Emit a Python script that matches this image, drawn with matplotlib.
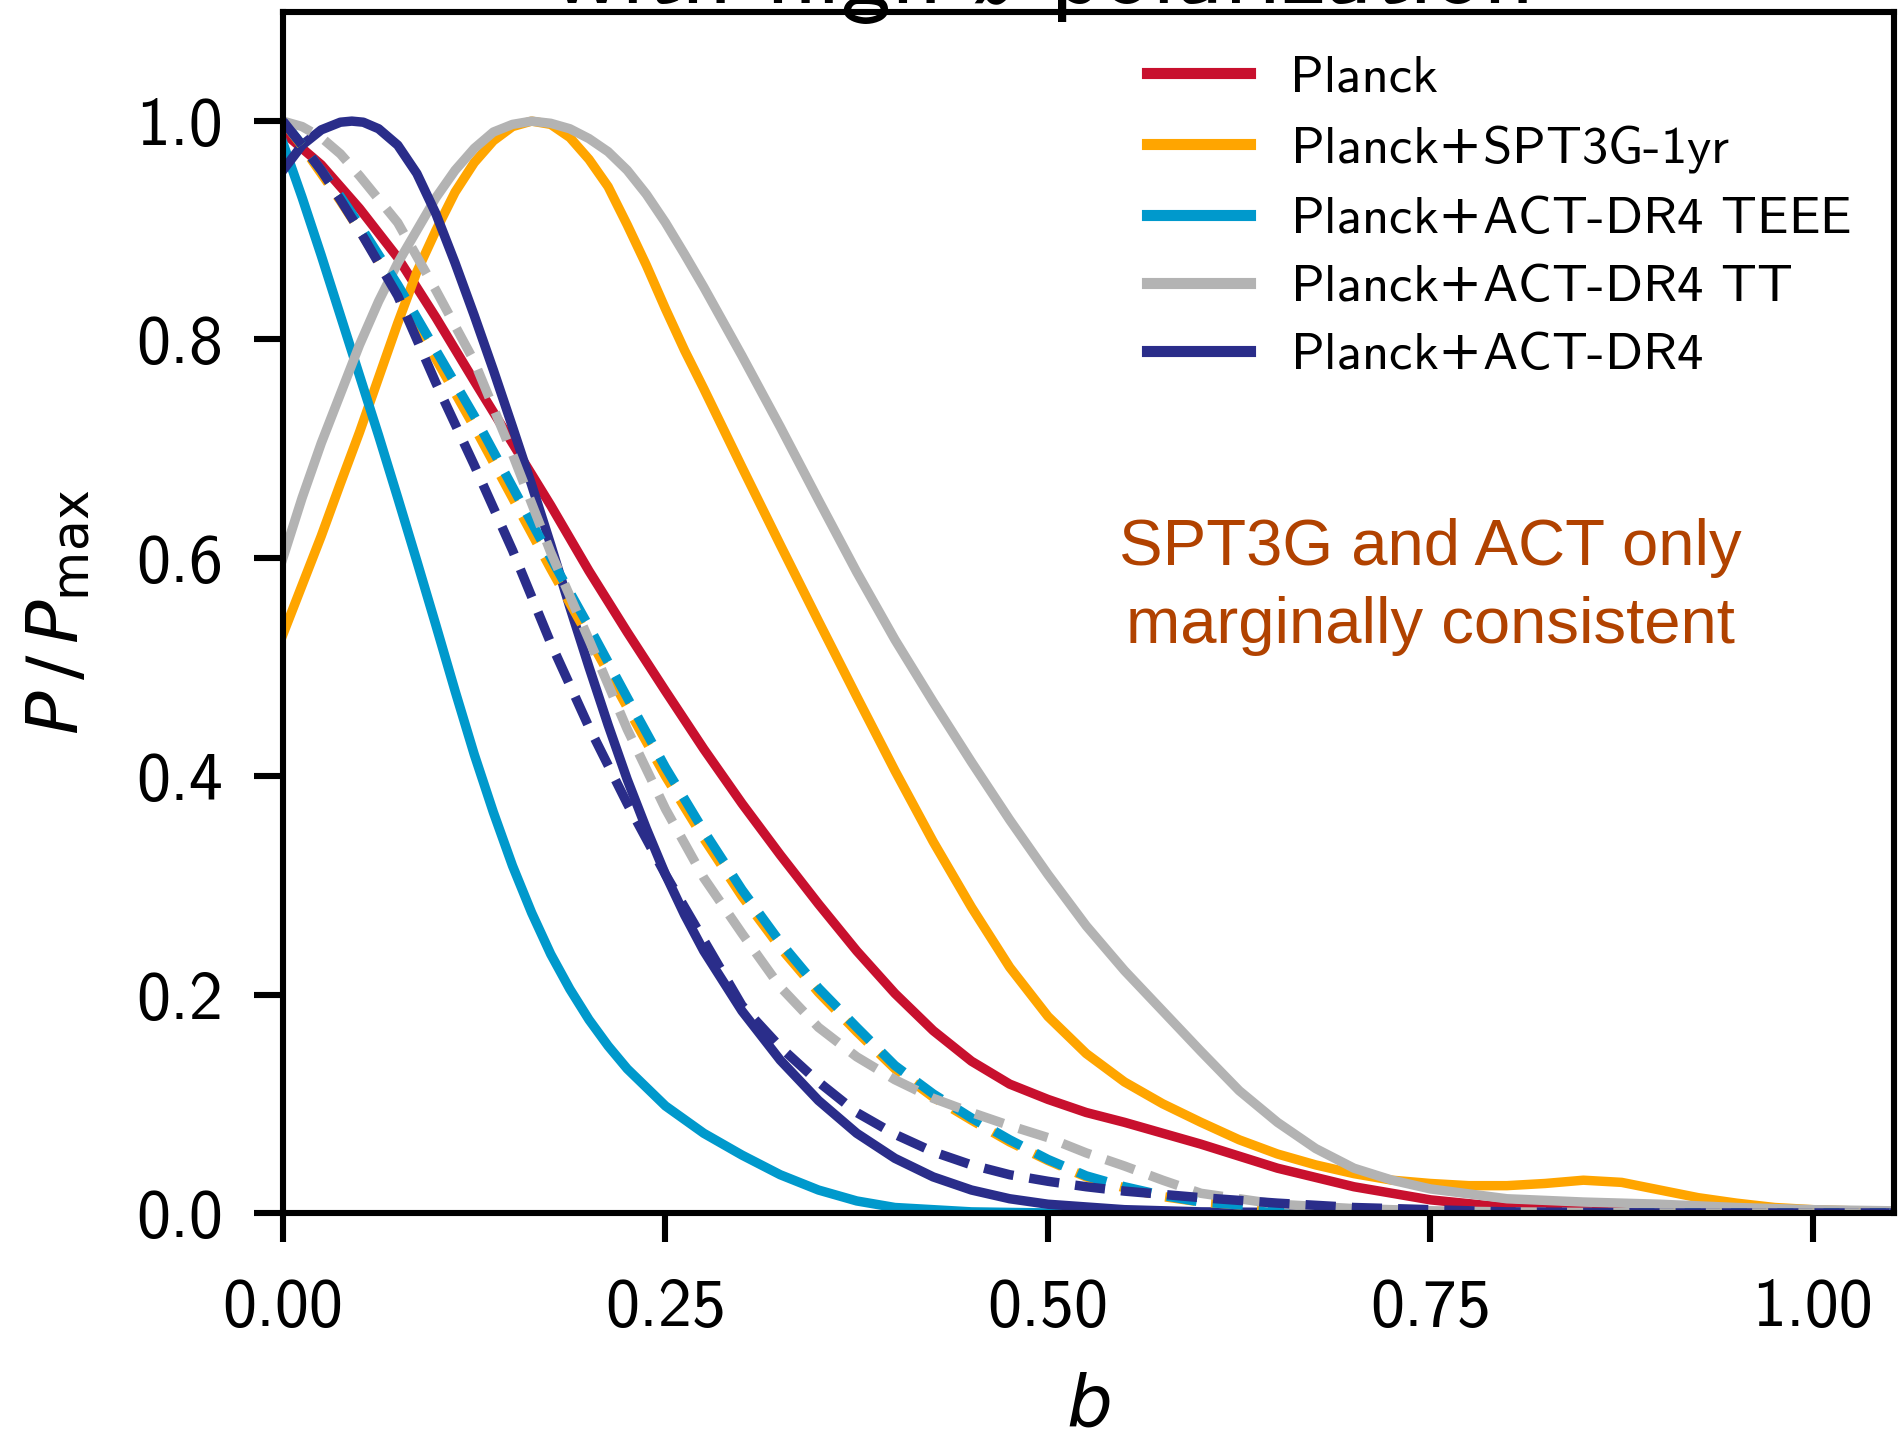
import matplotlib
matplotlib.use("Agg")
import matplotlib.pyplot as plt
from matplotlib.lines import Line2D

plt.rcParams['font.family'] = ['cmss10', 'DejaVu Sans']
plt.rcParams['mathtext.fontset'] = 'dejavusans'
plt.rcParams['axes.formatter.use_mathtext'] = True
plt.rcParams['axes.unicode_minus'] = False

# posterior of b, normalised to the peak
b_planck = [0, 0.025, 0.05, 0.075, 0.1, 0.125, 0.15, 0.175, 0.2, 0.225, 0.25, 0.275, 0.3,
            0.325, 0.35, 0.375, 0.4, 0.425, 0.45, 0.475, 0.5, 0.525, 0.55, 0.6, 0.65, 0.7, 0.75,
            0.8, 0.85, 0.9, 1.05]
p_planck = [0.99, 0.96, 0.92, 0.875, 0.82, 0.762, 0.705, 0.648, 0.588, 0.532, 0.478, 0.425, 0.375,
            0.328, 0.283, 0.24, 0.201, 0.167, 0.139, 0.118, 0.104, 0.092, 0.083, 0.063, 0.041, 0.024,
            0.012, 0.005, 0.002, 0.0005, 0.0]

b_spt = [0, 0.0125, 0.025, 0.0375, 0.05, 0.0625, 0.075, 0.0875, 0.1, 0.1125, 0.125, 0.1375,
         0.15, 0.1625, 0.175, 0.1875, 0.2, 0.2125, 0.225, 0.2375, 0.25, 0.2625, 0.275, 0.3,
         0.325, 0.35, 0.375, 0.4, 0.425, 0.45, 0.475, 0.5, 0.525, 0.55, 0.575, 0.6, 0.625,
         0.65, 0.675, 0.7, 0.725, 0.75, 0.775, 0.8, 0.825, 0.85, 0.875, 0.9, 0.925, 0.95,
         0.975, 1.0, 1.05]
p_spt = [0.53, 0.575, 0.62, 0.668, 0.715, 0.765, 0.815, 0.862, 0.90, 0.935, 0.962, 0.982,
         0.995, 1.0, 0.997, 0.985, 0.965, 0.94, 0.905, 0.868, 0.828, 0.79, 0.755, 0.683,
         0.612, 0.542, 0.473, 0.405, 0.34, 0.28, 0.225, 0.18, 0.146, 0.12, 0.10, 0.083, 0.067,
         0.054, 0.044, 0.036, 0.030, 0.027, 0.025, 0.025, 0.027, 0.030, 0.028, 0.021, 0.014,
         0.009, 0.005, 0.003, 0.001]

b_teee = [0, 0.0125, 0.025, 0.0375, 0.05, 0.0625, 0.075, 0.0875, 0.1, 0.1125, 0.125, 0.1375,
          0.15, 0.1625, 0.175, 0.1875, 0.2, 0.2125, 0.225, 0.25, 0.275, 0.3, 0.325, 0.35,
          0.375, 0.4, 0.45, 0.5, 1.05]
p_teee = [0.98, 0.93, 0.877, 0.822, 0.767, 0.712, 0.655, 0.597, 0.538, 0.478, 0.42, 0.367,
          0.318, 0.275, 0.237, 0.205, 0.177, 0.153, 0.132, 0.098, 0.073, 0.053, 0.035, 0.021,
          0.011, 0.005, 0.001, 0.0, 0.0]

b_tt = [0, 0.0125, 0.025, 0.0375, 0.05, 0.0625, 0.075, 0.0875, 0.1, 0.1125, 0.125, 0.1375,
        0.15, 0.1625, 0.175, 0.1875, 0.2, 0.2125, 0.225, 0.2375, 0.25, 0.2625, 0.275, 0.3,
        0.325, 0.35, 0.375, 0.4, 0.425, 0.45, 0.475, 0.5, 0.525, 0.55, 0.575, 0.6, 0.625, 0.65,
        0.675, 0.7, 0.725, 0.75, 0.8, 0.85, 0.9, 0.95, 1.0, 1.05]
p_tt = [0.60, 0.655, 0.705, 0.75, 0.795, 0.835, 0.87, 0.90, 0.93, 0.955, 0.975, 0.99,
        0.997, 1.0, 0.998, 0.993, 0.984, 0.972, 0.955, 0.933, 0.907, 0.878, 0.848, 0.785,
        0.72, 0.653, 0.587, 0.525, 0.468, 0.413, 0.36, 0.31, 0.263, 0.222, 0.185, 0.148, 0.112,
        0.083, 0.059, 0.041, 0.030, 0.022, 0.013, 0.010, 0.008, 0.005, 0.003, 0.002]

b_act = [0, 0.0125, 0.025, 0.0375, 0.045, 0.0525, 0.0625, 0.075, 0.0875, 0.1, 0.1125, 0.125,
         0.1375, 0.15, 0.1625, 0.175, 0.1875, 0.2, 0.2125, 0.225, 0.2375, 0.25, 0.2625, 0.275,
         0.3, 0.325, 0.35, 0.375, 0.4, 0.425, 0.45, 0.475, 0.5, 0.55, 0.6, 0.7, 1.05]
p_act = [0.955, 0.978, 0.992, 0.999, 1.0, 0.999, 0.993, 0.978, 0.952, 0.915, 0.87, 0.822,
         0.772, 0.72, 0.667, 0.612, 0.555, 0.50, 0.447, 0.397, 0.352, 0.31, 0.273, 0.24,
         0.185, 0.14, 0.103, 0.073, 0.05, 0.033, 0.021, 0.013, 0.008, 0.003, 0.001, 0.0, 0.0]

# dashed: same combinations without high-l polarization
b_dash = [0, 0.0125, 0.025, 0.0375, 0.05, 0.075, 0.1, 0.125, 0.15, 0.175, 0.2, 0.225, 0.25,
          0.275, 0.3, 0.325, 0.35, 0.375, 0.4, 0.425, 0.45, 0.475, 0.5, 0.525, 0.55, 0.575,
          0.6, 0.65, 0.7, 0.75, 0.8, 0.9, 1.05]
p_spt_d = [1.0, 0.977, 0.952, 0.927, 0.9, 0.843, 0.782, 0.72, 0.655, 0.59, 0.527, 0.463, 0.4,
           0.343, 0.29, 0.243, 0.202, 0.166, 0.132, 0.106, 0.085, 0.065, 0.048, 0.033, 0.023,
           0.015, 0.01, 0.005, 0.002, 0.001, 0.0, 0.0, 0.0]
p_teee_d = [1.0, 0.978, 0.955, 0.931, 0.905, 0.85, 0.79, 0.73, 0.665, 0.60, 0.537, 0.472, 0.408,
            0.35, 0.296, 0.248, 0.206, 0.17, 0.135, 0.109, 0.087, 0.067, 0.049, 0.034, 0.024,
            0.016, 0.01, 0.005, 0.002, 0.001, 0.0, 0.0, 0.0]
p_tt_d = [1.0, 0.995, 0.985, 0.97, 0.95, 0.907, 0.845, 0.78, 0.695, 0.605, 0.525, 0.443, 0.37,
          0.307, 0.256, 0.207, 0.17, 0.143, 0.122, 0.105, 0.092, 0.08, 0.069, 0.055, 0.043,
          0.03, 0.018, 0.008, 0.004, 0.002, 0.001, 0.0, 0.0]
p_act_d = [1.0, 0.978, 0.955, 0.928, 0.9, 0.84, 0.76, 0.685, 0.607, 0.522, 0.445, 0.375, 0.31,
           0.25, 0.19, 0.152, 0.12, 0.092, 0.072, 0.056, 0.044, 0.035, 0.029, 0.024, 0.02,
           0.017, 0.014, 0.009, 0.005, 0.003, 0.001, 0.0, 0.0]

labels = ['Planck', r'Planck$+$SPT3G-1yr', r'Planck$+$ACT-DR4 TEEE',
          r'Planck$+$ACT-DR4 TT', r'Planck$+$ACT-DR4']
colors = ['#C8102E', '#FFA500', '#0099CC', '#B3B3B3', '#2A2D8A']

fig = plt.figure(figsize=(9.49, 7.19), dpi=200)
ax = fig.add_axes([0.1491, 0.1565, 0.8488, 0.8352])

lw = 3.4
ax.plot(b_planck, p_planck, color=colors[0], lw=lw)
ax.plot(b_spt, p_spt, color=colors[1], lw=lw)
ax.plot(b_teee, p_teee, color=colors[2], lw=lw)
ax.plot(b_tt, p_tt, color=colors[3], lw=lw)
ax.plot(b_act, p_act, color=colors[4], lw=lw)

dash = (0, (3.2, 1.7))
ax.plot(b_dash, p_spt_d, color=colors[1], lw=lw, ls=dash)
ax.plot(b_dash, p_teee_d, color=colors[2], lw=lw, ls=dash)
ax.plot(b_dash, p_tt_d, color=colors[3], lw=lw, ls=dash)
ax.plot(b_dash, p_act_d, color=colors[4], lw=lw, ls=dash)

ax.set_xlim(0, 1.053)
ax.set_ylim(0, 1.1)
ax.set_xticks([0, 0.25, 0.5, 0.75, 1.0])
ax.set_yticks([0, 0.2, 0.4, 0.6, 0.8, 1.0])
ax.set_xticklabels(['0.00', '0.25', '0.50', '0.75', '1.00'])
ax.set_yticklabels(['0.0', '0.2', '0.4', '0.6', '0.8', '1.0'])
ax.tick_params(labelsize=24.5, length=10.5, width=2.2, pad=11)
ax.tick_params(axis='x', pad=13)
for s in ax.spines.values():
    s.set_linewidth(2.2)

ax.set_xlabel(r'$b$', fontsize=26, labelpad=13)
ax.set_ylabel(r'$P\,/\,P_{\rm max}$', fontsize=26, labelpad=16)

handles = [Line2D([], [], color=c, lw=4) for c in colors]
ax.legend(handles, labels, loc='upper right', frameon=False, fontsize=19,
          handlelength=1.95, handletextpad=0.75, labelspacing=0.40,
          borderaxespad=0.3, bbox_to_anchor=(0.996, 0.995))

ax.text(0.75, 0.573, 'SPT3G and ACT only\nmarginally consistent', ha='center', va='center',
        fontsize=23.5, color='#B14200', family='Liberation Sans', linespacing=1.38)

fig.text(0.548, 0.998, r'with high-$\ell$ polarization', ha='center', va='baseline', fontsize=36)

fig.savefig('out.png', dpi=200)
